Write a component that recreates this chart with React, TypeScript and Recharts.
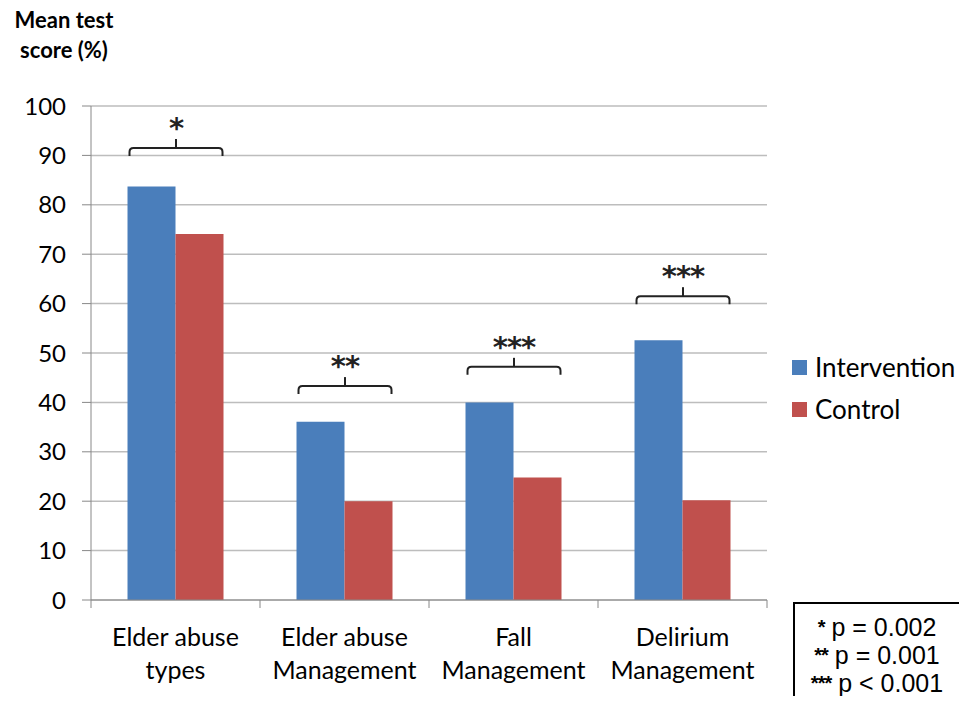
import { BarChart, Bar, XAxis, YAxis, CartesianGrid, LabelList } from "recharts";

const categories = [
  "Elder abuse\ntypes",
  "Elder abuse\nManagement",
  "Fall\nManagement",
  "Delirium\nManagement",
];
const intervention = [83.7, 36.1, 40.0, 52.6];
const control = [74.1, 20.0, 24.8, 20.2];
const bracketLevels = [91.5, 43.3, 47.2, 61.5];
const stars = ["*", "**", "***", "***"];
const yTicks = [0, 10, 20, 30, 40, 50, 60, 70, 80, 90, 100];
const pNotes = [
  { stars: "*", text: "p = 0.002" },
  { stars: "**", text: "p = 0.001" },
  { stars: "***", text: "p < 0.001" },
];

const series = [
  { key: "intervention", name: "Intervention", color: "#4a7ebb" },
  { key: "control", name: "Control", color: "#c0504d" },
];

const data = categories.map((name, i) => ({
  name,
  intervention: intervention[i],
  control: control[i],
}));

const FONT = "Lato, 'Open Sans', sans-serif";
const BAND = (967 - 200 - 91) / categories.length;

// bracket + stars drawn off the intervention bar geometry
function Bracket(props: any) {
  const box = props.viewBox ?? props;
  const { x, y, width, height } = box;
  const i = props.index;
  if (x == null || i == null) return null;
  const bottom = y + height;
  const perUnit = height / intervention[i];
  const ly = bottom - bracketLevels[i] * perUnit;
  const x0 = x + 2;
  const x1 = x + width * 2 - 1;
  const xm = (x0 + x1) / 2;
  const d = `M${x0},${ly + 8} L${x0},${ly + 4} Q${x0},${ly} ${x0 + 4},${ly} L${x1 - 4},${ly} Q${x1},${ly} ${x1},${ly + 4} L${x1},${ly + 8}`;
  return (
    <g>
      <path d={d} fill="none" stroke="#222" strokeWidth={2} />
      <line x1={xm} y1={ly} x2={xm} y2={ly - 9} stroke="#222" strokeWidth={2} />
      <text
        x={xm}
        y={ly - 10}
        textAnchor="middle"
        fontSize={29}
        fontWeight={700}
        fontFamily="'DejaVu Sans', sans-serif"
        letterSpacing={-1}
        fill="#222"
      >
        {stars[i]}
      </text>
    </g>
  );
}

function CategoryTick(props: any) {
  const { x, y, payload, index } = props;
  const lines = String(payload.value).split("\n");
  return (
    <g>
      <line x1={x - BAND / 2} y1={y} x2={x - BAND / 2} y2={y + 8} stroke="#888" />
      {index === categories.length - 1 && (
        <line x1={x + BAND / 2} y1={y} x2={x + BAND / 2} y2={y + 8} stroke="#888" />
      )}
      {lines.map((l, k) => (
        <text
          key={k}
          x={x}
          y={y + 46 + k * 33}
          textAnchor="middle"
          fontSize={25}
          fontFamily={FONT}
          fill="#000"
        >
          {l}
        </text>
      ))}
    </g>
  );
}

export default function App() {
  return (
    <div
      style={{
        position: "relative",
        width: 967,
        height: 704,
        margin: -8,
        overflow: "hidden",
        background: "#fff",
        fontFamily: FONT,
      }}
    >
      <div
        style={{
          position: "absolute",
          left: 6,
          top: 5,
          width: 116,
          textAlign: "center",
          fontSize: 22,
          fontWeight: 700,
          lineHeight: "30px",
          color: "#000",
        }}
      >
        Mean test
        <br />
        score (%)
      </div>

      <BarChart
        width={967}
        height={704}
        data={data}
        margin={{ top: 106, right: 200, bottom: 0, left: 0 }}
        barCategoryGap="21.6%"
        barGap={0}
      >
        <CartesianGrid vertical={false} stroke="#bdbdbd" strokeWidth={1.5} />
        <XAxis
          dataKey="name"
          height={104}
          tickSize={0}
          tickMargin={0}
          interval={0}
          axisLine={{ stroke: "#888" }}
          tick={<CategoryTick />}
        />
        <YAxis
          width={91}
          domain={[0, 100]}
          ticks={yTicks}
          interval={0}
          tickSize={9}
          tickMargin={16}
          axisLine={{ stroke: "#888" }}
          tickLine={{ stroke: "#888" }}
          tick={{ fill: "#000", fontSize: 24, fontFamily: FONT }}
        />
        {series.map((s) => (
          <Bar
            key={s.key}
            dataKey={s.key}
            name={s.name}
            fill={s.color}
            isAnimationActive={false}
          >
            {s.key === "intervention" && (
              <LabelList dataKey="intervention" content={<Bracket />} />
            )}
          </Bar>
        ))}
      </BarChart>

      <div style={{ position: "absolute", left: 792, top: 352 }}>
        {series.map((s) => (
          <div
            key={s.key}
            style={{ display: "flex", alignItems: "center", height: 30, marginBottom: 12 }}
          >
            <span
              style={{ width: 15, height: 15, background: s.color, marginRight: 8 }}
            />
            <span style={{ fontSize: 26, color: "#000" }}>{s.name}</span>
          </div>
        ))}
      </div>

      <div
        style={{
          position: "absolute",
          left: 793,
          top: 602,
          width: 190,
          height: 130,
          border: "2px solid #000",
          fontFamily: "'Liberation Sans', Arial, sans-serif",
          color: "#000",
        }}
      >
        <div style={{ width: 164, paddingTop: 9, textAlign: "center" }}>
          {pNotes.map((n) => (
            <div key={n.text} style={{ fontSize: 25, lineHeight: "28px" }}>
              <span style={{ fontSize: 20, fontWeight: 700, verticalAlign: "top", letterSpacing: -1 }}>
                {n.stars}
              </span>{" "}
              {n.text}
            </div>
          ))}
        </div>
      </div>
    </div>
  );
}
